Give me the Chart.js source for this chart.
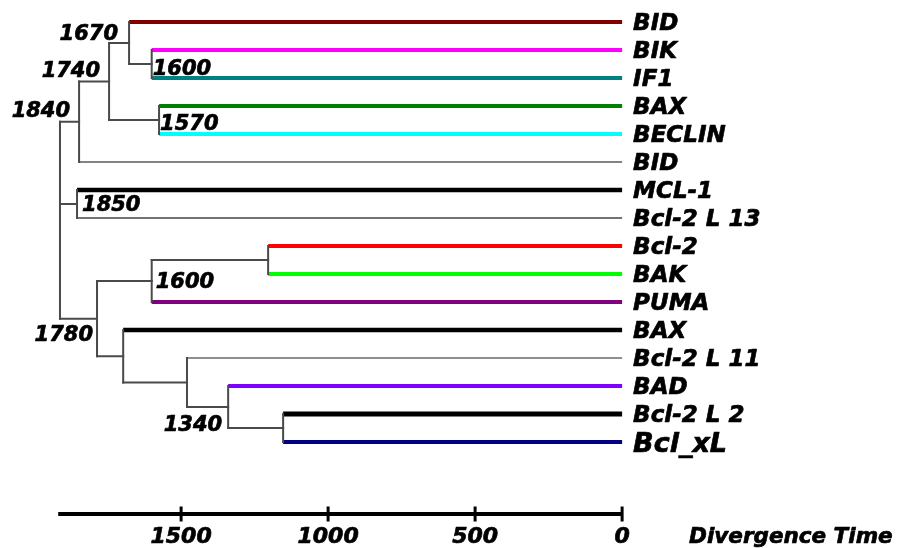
<!DOCTYPE html>
<html><head><meta charset="utf-8">
<script src="https://cdn.jsdelivr.net/npm/chart.js@4.4.1/dist/chart.umd.min.js"></script>
<style>html,body{margin:0;padding:0;background:#fff}#wrap{width:897px;height:548px;position:relative}</style>
</head><body><div id="wrap"><canvas id="c"></canvas></div>
<script>
// ---------- DATA ----------
// leaves, top to bottom
const leafNames = ['BID','BIK','IF1','BAX','BECLIN','BID','MCL-1','Bcl-2 L 13','Bcl-2','BAK','PUMA','BAX','Bcl-2 L 11','BAD','Bcl-2 L 2','Bcl_xL'];
// internal nodes (divergence time) and their children: 'L#' = leaf index, otherwise node id
const nodeIds      = ['n1600a','n1670','n1570','n1740','n1840','n1850','nBclBak','n1600b','nL2xL','n1340','nL11','nBax','n1780','root'];
const nodeTimes    = [1600, 1677, 1575, 1745, 1847, 1854, 1204, 1600, 1153, 1340, 1480, 1697, 1786, 1912];
const nodeChildren = [['L1','L2'],['L0','n1600a'],['L3','L4'],['n1670','n1570'],['n1740','L5'],['L6','L7'],['L8','L9'],['nBclBak','L10'],['L14','L15'],['L13','nL2xL'],['L12','n1340'],['L11','nL11'],['n1600b','nBax'],['n1840','n1850','n1780']];
const nodeLabels   = ['1600','1670','1570','1740','1840','1850','','1600','','1340','','','1780',''];
const axisTicks      = [1500, 1000, 500, 0];
const axisTickLabels = ['1500','1000','500','0'];
const axisStart = 1918;
const axisTitle = 'Divergence Time';

// ---------- STYLE / LAYOUT ----------
const leafColors = ['#800000','#ff00ff','#008080','#008000','#00ffff','#5a5a5a','#000000','#444444','#ff0000','#00ff00','#800080','#000000','#6a6a6a','#8000ff','#000000','#000080'];
const leafWidths = [4,4,4,4,4,1.5,4.5,1.5,4,4,4,4.5,1.5,4,5,4];
const leafFont   = [23,23,23,23,23,23,23,23,23,23,23,23,23,23,23,27];
// node label placement: [dx, dy(baseline), align]
const nodeLabelPlace = [[1,11,'left'],[-11,-3,'right'],[1,10,'left'],[-9,-5,'right'],[-9,-5,'right'],[5,7,'left'],[0,0,'left'],[4,7,'left'],[0,0,'left'],[-6,24,'right'],[0,0,'left'],[0,0,'left'],[-4,22,'right'],[0,0,'left']];
const branchColor = '#4a4a4a';
const branchWidth = 2;
const axisRow = 17.571;   // vertical position of the time axis (in leaf rows)
const tickHalf = 0.27;

// ---------- BUILD ----------
const nodeIndex = {}; nodeIds.forEach((id,i)=>nodeIndex[id]=i);
const nodeY = {};
function isLeaf(ref){ return ref[0]==='L' && !nodeIndex.hasOwnProperty(ref); }
function yOf(ref){
  if (isLeaf(ref)) return +ref.slice(1);
  if (nodeY[ref]!==undefined) return nodeY[ref];
  const ch = nodeChildren[nodeIndex[ref]];
  const y = (yOf(ch[0]) + yOf(ch[ch.length-1]))/2;
  nodeY[ref]=y; return y;
}
nodeIds.forEach(id=>yOf(id));

const datasets = [];
function seg(pts, color, width, cap){
  datasets.push({data:pts, showLine:true, borderColor:color, borderWidth:width, pointRadius:0, borderCapStyle:cap||'square', fill:false, tension:0});
}
// internal branches
nodeIds.forEach((id,i)=>{
  const t = nodeTimes[i], ch = nodeChildren[i];
  seg([{x:t,y:yOf(ch[0])},{x:t,y:yOf(ch[ch.length-1])}], branchColor, branchWidth);
  ch.forEach(c=>{
    if (!isLeaf(c)) seg([{x:t,y:yOf(c)},{x:nodeTimes[nodeIndex[c]],y:yOf(c)}], branchColor, branchWidth);
  });
});
// leaf branches
nodeIds.forEach((id,i)=>{
  const t = nodeTimes[i];
  nodeChildren[i].forEach(c=>{
    if (isLeaf(c)){
      const k = +c.slice(1);
      seg([{x:t,y:k},{x:0,y:k}], leafColors[k], leafWidths[k], 'butt');
    }
  });
});
// time axis
seg([{x:axisStart,y:axisRow},{x:0,y:axisRow}], '#000', 4, 'butt');
axisTicks.forEach(v=>seg([{x:v,y:axisRow-tickHalf},{x:v,y:axisRow+tickHalf}], '#000', 3, 'butt'));

function heavyText(ctx, s, x, y){
  ctx.fillText(s, x, y);
  ctx.strokeText(s, x, y);
}

const textPlugin = {
  id:'texts',
  afterDatasetsDraw(chart){
    const ctx = chart.ctx, xs = chart.scales.x, ys = chart.scales.y;
    ctx.save();
    ctx.fillStyle = '#000';
    ctx.strokeStyle = '#000';
    ctx.lineWidth = 0.7;
    ctx.lineJoin = 'round';
    ctx.textBaseline = 'alphabetic';
    const x0 = xs.getPixelForValue(0);
    leafNames.forEach((n,k)=>{
      const fs = leafFont[k];
      ctx.font = 'italic bold '+fs+'px "DejaVu Sans"';
      ctx.textAlign = 'left';
      heavyText(ctx, n, x0 + 11, ys.getPixelForValue(k) + fs*0.729/2);
    });
    ctx.font = 'italic bold 21px "DejaVu Sans"';
    nodeIds.forEach((id,i)=>{
      if (!nodeLabels[i]) return;
      const p = nodeLabelPlace[i];
      ctx.textAlign = p[2];
      heavyText(ctx, nodeLabels[i], xs.getPixelForValue(nodeTimes[i]) + p[0], ys.getPixelForValue(yOf(id)) + p[1]);
    });
    const ay = ys.getPixelForValue(axisRow);
    ctx.font = 'italic bold 22px "DejaVu Sans"';
    ctx.textAlign = 'center';
    axisTicks.forEach((v,i)=>heavyText(ctx, axisTickLabels[i], xs.getPixelForValue(v), ay + 29));
    ctx.font = 'italic bold 21.5px "DejaVu Sans"';
    ctx.textAlign = 'left';
    heavyText(ctx, axisTitle, x0 + 67, ay + 29);
    ctx.restore();
  }
};

new Chart(document.getElementById('c'), {
  type:'scatter',
  data:{datasets},
  options:{
    responsive:true, maintainAspectRatio:false, animation:false, events:[],
    layout:{padding:0},
    plugins:{legend:{display:false}, tooltip:{enabled:false}},
    scales:{
      x:{type:'linear', reverse:true, min:-935, max:2116, display:false},
      y:{type:'linear', reverse:true, min:-22/28, max:(548-22)/28, display:false}
    }
  },
  plugins:[textPlugin]
});
</script>
</body></html>
